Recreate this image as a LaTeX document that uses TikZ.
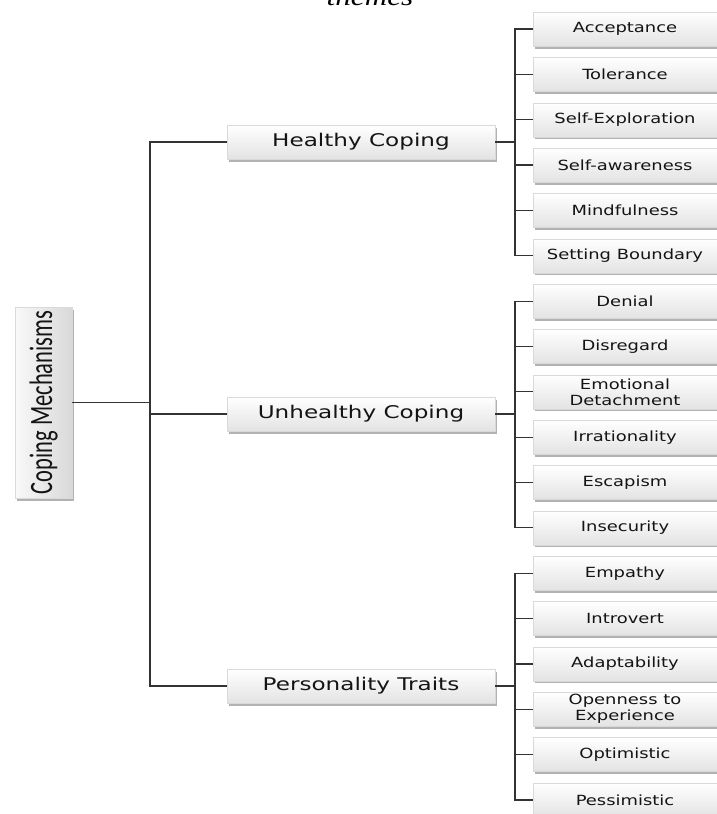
\documentclass[tikz,border=0pt]{standalone}
\usepackage{fontspec}
\usetikzlibrary{shadows}
\newfontfamily\leaffont[FakeStretch=1.28]{DejaVu Sans}
\newfontfamily\midfont[FakeStretch=1.32]{DejaVu Sans}
\newfontfamily\rootfont[FakeStretch=0.69]{Carlito}
\newfontfamily\themefont[FakeStretch=1.2]{Liberation Serif}
\begin{document}
\begin{tikzpicture}[x=1pt,y=-1pt,
  box/.style={rectangle, inner sep=0pt, draw=gray!30, line width=0.4pt,
    top color=white, bottom color=gray!22,
    drop shadow={shadow xshift=1.5pt, shadow yshift=-2.5pt, fill=black, opacity=0.3},
    text=black!92},
  leafbox/.style={box, minimum width=184pt, minimum height=34pt, align=center,
    font=\leaffont\fontsize{14}{16}\selectfont},
  midbox/.style={box, minimum width=268pt, minimum height=34pt,
    font=\midfont\fontsize{17.5}{20}\selectfont},
  rootbox/.style={box, left color=gray!5, right color=gray!30,
    minimum width=57pt, minimum height=191pt},
  link/.style={line width=1.2pt, draw=black!80}]
\useasboundingbox (0,0) rectangle (717,814);
\clip (0,0) rectangle (717,814);
\fill[white] (0,0) rectangle (717,814);

\node[font=\themefont\itshape\fontsize{26}{30}\selectfont, anchor=base, text=black] (theme) at (370,5.5) {themes};

\node[rootbox] (root) at (43.5,402.5) {\rotatebox{90}{\rootfont\fontsize{32.6}{36}\selectfont Coping Mechanisms}};

\node[midbox] (hc) at (361,142) {Healthy Coping};
\node[midbox] (uc) at (361,414) {Unhealthy Coping};
\node[midbox] (pt) at (361,686) {Personality Traits};

\foreach [count=\i from 0] \t in {Acceptance, Tolerance, Self-Exploration, Self-awareness, Mindfulness, Setting Boundary, Denial, Disregard, {Emotional\\Detachment}, Irrationality, Escapism, Insecurity, Empathy, Introvert, Adaptability, {Openness to\\Experience}, Optimistic, Pessimistic}
  \node[leafbox] (l\i) at (625,29+45.35*\i) {\t};

\coordinate (trunk) at (150,402.5);
\coordinate (bus) at (515,0);

\draw[link] (root.east) -- (trunk);
\draw[link] (hc.west) -- (hc.west -| trunk) |- (pt.west);
\draw[link] (uc.west) -- (uc.west -| trunk);

\draw[link] (hc.east) -- (hc.east -| bus);
\draw[link] (uc.east) -- (uc.east -| bus);
\draw[link] (pt.east) -- (pt.east -| bus);

\draw[link] (l0.west) -- (l0.west -| bus) |- (l5.west);
\draw[link] (l6.west) -- (l6.west -| bus) |- (l11.west);
\draw[link] (l12.west) -- (l12.west -| bus) |- (l17.west);
\foreach \i in {1,2,3,4,7,8,9,10,13,14,15,16}
  \draw[link] (l\i.west) -- (l\i.west -| bus);
\end{tikzpicture}
\end{document}
